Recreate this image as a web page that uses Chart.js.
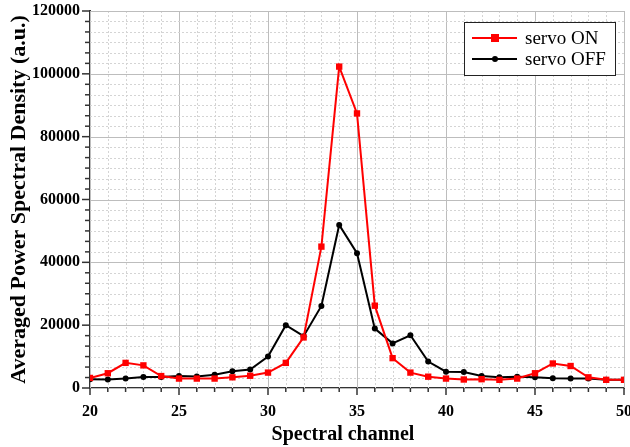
<!DOCTYPE html>
<html>
<head>
<meta charset="utf-8">
<script src="https://cdn.jsdelivr.net/npm/chart.js@4/dist/chart.umd.min.js"></script>
<style>
  html, body { margin: 0; padding: 0; background: #fff; }
  #wrap { width: 630px; height: 447px; }
</style>
</head>
<body>
<div id="wrap"><canvas id="psd-chart" width="630" height="447"></canvas></div>
<script>
(function () {
  "use strict";

  var channels = [20, 21, 22, 23, 24, 25, 26, 27, 28, 29, 30, 31, 32, 33, 34, 35,
    36, 37, 38, 39, 40, 41, 42, 43, 44, 45, 46, 47, 48, 49, 50];
  var servoOn = [3200, 4700, 8000, 7200, 3800, 3000, 3000, 3000, 3400, 3900, 4900, 8000,
    16100, 45000, 102300, 87400, 26200, 9500, 4900, 3600, 3000, 2700, 2800, 2600,
    3000, 4700, 7800, 7000, 3400, 2600, 2600];
  var servoOff = [2800, 2700, 3000, 3500, 3500, 3800, 3700, 4200, 5300, 5900, 10000, 20000,
    16500, 26100, 51900, 42900, 18900, 14200, 16800, 8400, 5200, 5100, 3800, 3400,
    3600, 3400, 3100, 3000, 3000, 2600, 2600];
  var seriesLabels = ["servo ON", "servo OFF"];
  var xTitle = "Spectral channel";
  var yTitle = "Averaged Power Spectral Density (a.u.)";

  var SERIF = "'Liberation Serif', 'DejaVu Serif', serif";

  function toPoints(ys) {
    return channels.map(function (c, i) { return { x: c, y: ys[i] }; });
  }

  // grid + outward tick marks, Origin-style
  var gridPlugin = {
    id: "originGrid",
    beforeDatasetsDraw: function (chart) {
      var ctx = chart.ctx, a = chart.chartArea;
      var xs = chart.scales.x, ys = chart.scales.y;
      ctx.save();
      ctx.lineWidth = 1;
      var c, v, px, py;
      for (c = 20; c <= 50; c++) {
        px = Math.round(xs.getPixelForValue(c)) + 0.5;
        if (c % 5 === 0) { ctx.setLineDash([]); ctx.strokeStyle = "#bdbdbd"; }
        else { ctx.setLineDash([2, 2]); ctx.strokeStyle = "#d4d4d4"; }
        ctx.beginPath(); ctx.moveTo(px, a.top); ctx.lineTo(px, a.bottom); ctx.stroke();
      }
      for (var k = 0; k <= 36; k++) {
        v = k * 20000 / 6;
        py = Math.round(ys.getPixelForValue(v)) + 0.5;
        if (k % 6 === 0) { ctx.setLineDash([]); ctx.strokeStyle = "#bdbdbd"; }
        else { ctx.setLineDash([2, 2]); ctx.strokeStyle = "#d4d4d4"; }
        ctx.beginPath(); ctx.moveTo(a.left, py); ctx.lineTo(a.right, py); ctx.stroke();
      }
      ctx.restore();
    },
    afterDraw: function (chart) {
      var ctx = chart.ctx, a = chart.chartArea;
      var xs = chart.scales.x, ys = chart.scales.y;
      ctx.save();
      ctx.strokeStyle = "#333";
      ctx.lineWidth = 1.5;
      var c, px, py;
      for (c = 20; c <= 50; c++) {
        px = xs.getPixelForValue(c);
        ctx.beginPath(); ctx.moveTo(px, a.bottom); ctx.lineTo(px, a.bottom + (c % 5 === 0 ? 7 : 4)); ctx.stroke();
      }
      for (var k = 0; k <= 36; k++) {
        py = ys.getPixelForValue(k * 20000 / 6);
        ctx.beginPath(); ctx.moveTo(a.left, py); ctx.lineTo(a.left - (k % 6 === 0 ? 8 : 5), py); ctx.stroke();
      }
      // x axis title sits a bit left of the plot centre, as in the original
      ctx.fillStyle = "#000";
      ctx.font = "bold 20px " + SERIF;
      ctx.textAlign = "center";
      ctx.textBaseline = "middle";
      ctx.fillText(xTitle, 343, 435);
      ctx.restore();
    }
  };

  // boxed legend in the upper right corner
  var legendPlugin = {
    id: "boxLegend",
    afterDraw: function (chart) {
      var ctx = chart.ctx;
      var bx = 464, by = 22, bw = 151, bh = 53;
      ctx.save();
      ctx.fillStyle = "#fff";
      ctx.fillRect(bx, by, bw, bh);
      ctx.strokeStyle = "#222";
      ctx.lineWidth = 1;
      ctx.strokeRect(bx + 0.5, by + 0.5, bw, bh);
      chart.data.datasets.forEach(function (ds, i) {
        var y = by + 16 + i * 21;
        ctx.strokeStyle = ds.borderColor;
        ctx.lineWidth = 2;
        ctx.beginPath(); ctx.moveTo(472, y); ctx.lineTo(517, y); ctx.stroke();
        ctx.fillStyle = ds.borderColor;
        if (ds.pointStyle === "rect") {
          ctx.fillRect(491, y - 4, 8, 8);
        } else {
          ctx.beginPath(); ctx.arc(495, y, 3, 0, Math.PI * 2); ctx.fill();
        }
        ctx.fillStyle = "#000";
        ctx.font = "19px " + SERIF;
        ctx.textBaseline = "middle";
        ctx.fillText(ds.label, 525, y + 1);
      });
      ctx.restore();
    }
  };

  new Chart(document.getElementById("psd-chart"), {
    type: "line",
    data: {
      datasets: [
        {
          label: seriesLabels[0],
          data: toPoints(servoOn),
          borderColor: "#ff0000",
          backgroundColor: "#ff0000",
          borderWidth: 2,
          pointStyle: "rect",
          pointRadius: 4.5,
          pointBorderWidth: 0,
          tension: 0
        },
        {
          label: seriesLabels[1],
          data: toPoints(servoOff),
          borderColor: "#000000",
          backgroundColor: "#000000",
          borderWidth: 2,
          pointStyle: "circle",
          pointRadius: 3,
          pointBorderWidth: 0,
          tension: 0
        }
      ]
    },
    options: {
      responsive: false,
      animation: false,
      layout: { padding: { top: 11, right: 6, left: 0, bottom: 0 } },
      plugins: {
        legend: { display: false },
        tooltip: { enabled: false }
      },
      scales: {
        x: {
          type: "linear",
          min: 20,
          max: 50,
          grid: { display: false, drawTicks: false },
          border: { display: true, color: "#333", width: 2 },
          ticks: {
            stepSize: 5,
            padding: 14,
            color: "#000",
            font: { family: SERIF, size: 16, weight: "bold" }
          },
          title: { display: false },
          afterFit: function (s) {
            s.height = 59;
            s.paddingLeft = 0;
            s.paddingRight = 0;
          }
        },
        y: {
          min: 0,
          max: 120000,
          grid: { display: false, drawTicks: false },
          border: { display: true, color: "#333", width: 2 },
          ticks: {
            stepSize: 20000,
            padding: 10,
            color: "#000",
            font: { family: SERIF, size: 16, weight: "bold" },
            callback: function (v) { return String(v); }
          },
          title: {
            display: true,
            text: yTitle,
            color: "#000",
            font: { family: SERIF, size: 22, weight: "bold" },
            padding: { top: 6, bottom: 0 }
          },
          afterFit: function (s) {
            s.width = 90;
            s.paddingTop = 0;
            s.paddingBottom = 0;
          }
        }
      }
    },
    plugins: [gridPlugin, legendPlugin]
  });
})();
</script>
</body>
</html>
